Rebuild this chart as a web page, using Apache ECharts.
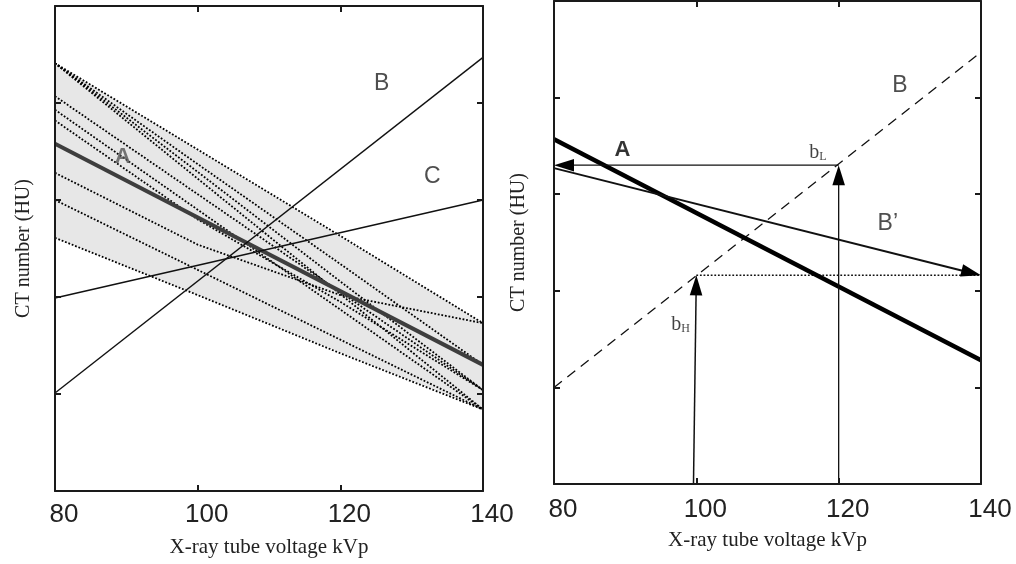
<!DOCTYPE html>
<html>
<head>
<meta charset="utf-8">
<script src="https://cdn.jsdelivr.net/npm/echarts@6/dist/echarts.min.js"></script>
<style>html,body{margin:0;padding:0;background:#fff;}#c{width:1016px;height:564px;}</style>
</head>
<body>
<div id="c"></div>
<script>
// ---- data ----
const kvpTicks = [80, 100, 120, 140];
const kvpEnds = [80, 140];
const bandTop = [4.41, 1.73];
const bandBottom = [2.61, 0.84];
const leftA = [3.58, 1.30];
const leftB = [1.01, 4.47];
const leftC = [1.99, 3.00];
const dotted1 = [4.41, 3.52, 2.63, 1.73];
const dotted2 = [4.41, 3.37, 2.34, 1.30];
const dotted3 = [4.41, 3.29, 2.16, 1.04];
const dotted4 = [4.41, 3.22, 2.03, 0.84];
const dotted5 = [4.07, 3.06, 2.05, 1.04];
const dotted6 = [3.93, 2.90, 1.87, 0.84];
const dotted7 = [3.82, 2.80, 1.95, 1.04];
const dotted8 = [3.28, 2.54, 2.02, 1.73];
const dotted9 = [3.00, 2.28, 1.56, 0.84];
const dotted10 = [2.61, 2.02, 1.42, 0.84];
const rightA = [3.57, 1.28];
const rightB = [1.00, 4.47];
const bL = 3.30;
const bH = 2.16;
const bPrime = [3.27, 2.16];
const bHx = [99.6, 100];
const dottedList = [dotted1, dotted2, dotted3, dotted4, dotted5, dotted6, dotted7, dotted8, dotted9, dotted10];

const SERIF = '"Liberation Serif","DejaVu Serif",serif';
const SANS = '"Liberation Sans",Arial,sans-serif';

function pair(xs, ys) { return xs.map((x, i) => [x, ys[i]]); }

const chart = echarts.init(document.getElementById('c'), null, {renderer: 'canvas'});

function xAx(grid, bottom) {
  return {
    type: 'value', gridIndex: grid, position: bottom ? 'bottom' : 'top', z: 10,
    min: 80, max: 140, interval: 20,
    axisLine: {show: true, onZero: false, lineStyle: {color: '#1a1a1a', width: 2}},
    axisTick: {show: true, inside: true, length: 6, lineStyle: {color: '#1a1a1a', width: 2}},
    splitLine: {show: false},
    axisLabel: bottom ? {show: true, fontFamily: SANS, fontSize: 26, color: '#222', margin: grid === 0 ? 11 : 13, padding: [0, 0, 0, 18]} : {show: false},
    name: bottom ? 'X-ray tube voltage kVp' : '',
    nameLocation: 'middle', nameGap: 46,
    nameTextStyle: {fontFamily: SERIF, fontSize: 21, color: '#222'}
  };
}
function yAx(grid, left) {
  return {
    type: 'value', gridIndex: grid, position: left ? 'left' : 'right', z: 10,
    min: 0, max: 5, interval: 1,
    axisLine: {show: true, onZero: false, lineStyle: {color: '#1a1a1a', width: 2}},
    axisTick: {show: true, inside: true, length: 6, lineStyle: {color: '#1a1a1a', width: 2}},
    splitLine: {show: false},
    axisLabel: {show: false},
    name: left ? 'CT number (HU)' : '',
    nameLocation: 'middle', nameGap: grid === 0 ? 21 : 25,
    nameTextStyle: {fontFamily: SERIF, fontSize: 20, color: '#222'}
  };
}

function lineS(xi, yi, data, color, width, type, z) {
  return {type: 'line', xAxisIndex: xi, yAxisIndex: yi, data: data, showSymbol: false, symbol: 'none',
    lineStyle: {color: color, width: width, type: type}, z: z || 3, silent: true, animation: false};
}
// arrow drawn through the axes: line from start to end with a filled head whose tip is at the end
function arrowS(xi, yi, coords, width) {
  return {
    type: 'custom', xAxisIndex: xi, yAxisIndex: yi, silent: true, animation: false, z: 5,
    data: [coords[0]],
    renderItem: function (params, api) {
      const p0 = api.coord(coords[0]);
      const p1 = api.coord(coords[1]);
      const dx = p1[0] - p0[0], dy = p1[1] - p0[1];
      const len = Math.sqrt(dx * dx + dy * dy);
      const ux = dx / len, uy = dy / len;
      const headL = 20, headW = 6.3;
      const bx = p1[0] - ux * headL, by = p1[1] - uy * headL;
      return {
        type: 'group', children: [
          {type: 'line', shape: {x1: p0[0], y1: p0[1], x2: bx + ux * 2, y2: by + uy * 2}, style: {stroke: '#111', lineWidth: width}},
          {type: 'polygon', shape: {points: [[p1[0], p1[1]], [bx - uy * headW, by + ux * headW], [bx + uy * headW, by - ux * headW]]}, style: {fill: '#000'}}
        ]
      };
    }
  };
}
function labelS(xi, yi, items) {
  return {type: 'scatter', xAxisIndex: xi, yAxisIndex: yi, symbolSize: 0.1, silent: true, animation: false, z: 6,
    data: items.map(it => ({value: [it[0], it[1]], label: Object.assign({show: true, position: 'inside'}, it[2])}))};
}

const series = [];
// band
series.push({
  type: 'custom', xAxisIndex: 0, yAxisIndex: 0, silent: true, animation: false, z: 1,
  data: [[kvpEnds[0], bandTop[0]]],
  renderItem: function (params, api) {
    const pts = [].concat(pair(kvpEnds, bandTop), pair(kvpEnds, bandBottom).reverse()).map(p => api.coord(p));
    return {type: 'polygon', shape: {points: pts}, style: {fill: '#e7e7e7'}};
  }
});
dottedList.forEach(d => series.push(lineS(0, 0, pair(kvpTicks, d), '#000', 1.8, [1.8, 1.8], 2)));
series.push(lineS(0, 0, pair(kvpEnds, leftA), '#3e3e3e', 4, 'solid', 4));
series.push(lineS(0, 0, pair(kvpEnds, leftB), '#111', 1.4, 'solid', 4));
series.push(lineS(0, 0, pair(kvpEnds, leftC), '#111', 1.4, 'solid', 4));
series.push(labelS(0, 0, [
  [89.5, 3.44, {formatter: 'A', fontFamily: SANS, fontSize: 22, color: '#555', fontWeight: 'bold'}],
  [125.8, 4.20, {formatter: 'B', fontFamily: SANS, fontSize: 23, color: '#222'}],
  [132.9, 3.24, {formatter: 'C', fontFamily: SANS, fontSize: 23, color: '#222'}]
]));

// right panel
series.push(lineS(2, 2, pair(kvpEnds, rightA), '#000', 4.5, 'solid', 4));
series.push(lineS(2, 2, pair(kvpEnds, rightB), '#111', 1.3, [10, 7], 3));
series.push(arrowS(2, 2, [[120, bL], [80, bL]], 1.3));
series.push(arrowS(2, 2, [[80, bPrime[0]], [140, bPrime[1]]], 2));
series.push(lineS(2, 2, [[100, bH], [140, bH]], '#111', 1.5, [1.8, 1.8], 3));
series.push(arrowS(2, 2, [[120, 0], [120, bL]], 1.3));
series.push(arrowS(2, 2, [[bHx[0], 0], [bHx[1], bH]], 1.5));
series.push(labelS(2, 2, [
  [89.6, 3.46, {formatter: 'A', fontFamily: SANS, fontSize: 22, color: '#000', fontWeight: 'bold'}],
  [128.6, 4.12, {formatter: 'B', fontFamily: SANS, fontSize: 23, color: '#222'}],
  [126.9, 2.70, {formatter: 'B\u2019', fontFamily: SANS, fontSize: 23, color: '#222'}],
  [117.1, 3.43, {formatter: '{b|b}{s|L}', rich: {b: {fontFamily: SERIF, fontSize: 20, color: '#111'}, s: {fontFamily: SERIF, fontSize: 12, color: '#111', padding: [8, 0, 0, 0]}}}],
  [97.8, 1.65, {formatter: '{b|b}{s|H}', rich: {b: {fontFamily: SERIF, fontSize: 20, color: '#111'}, s: {fontFamily: SERIF, fontSize: 12, color: '#111', padding: [8, 0, 0, 0]}}}]
]));

chart.setOption({
  animation: false,
  backgroundColor: '#fff',
  grid: [
    {left: 55, top: 6, width: 428, height: 485},
    {left: 554, top: 1, width: 427, height: 483}
  ],
  xAxis: [xAx(0, true), xAx(0, false), xAx(1, true), xAx(1, false)],
  yAxis: [yAx(0, true), yAx(0, false), yAx(1, true), yAx(1, false)],
  series: series
});
</script>
</body>
</html>
